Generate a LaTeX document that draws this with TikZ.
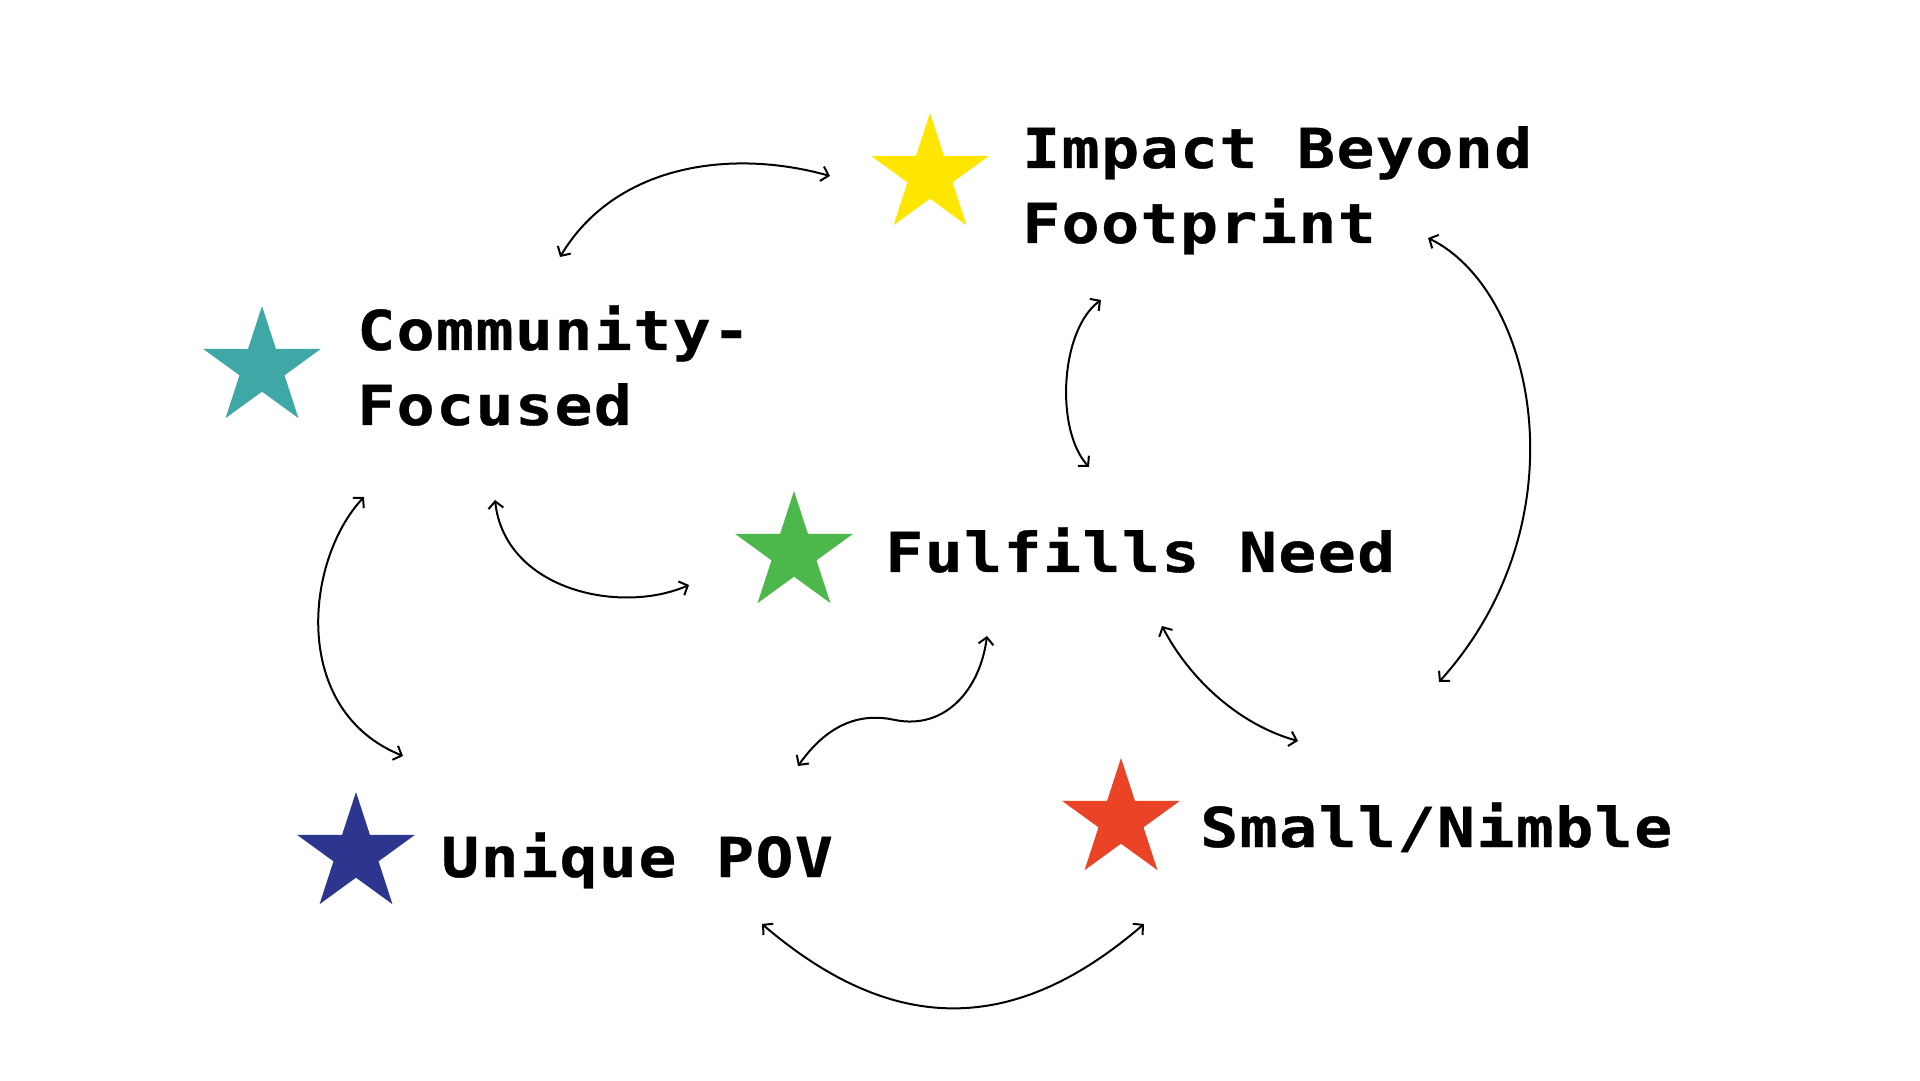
\documentclass[tikz,border=0pt]{standalone}
\usepackage{fontspec}
\usetikzlibrary{shapes.geometric,arrows.meta}
\newfontfamily\lblfont[LetterSpace=2.5,FakeStretch=1.15,BoldFeatures={FakeBold=0.6}]{DejaVu Sans Mono}
\definecolor{cyellow}{RGB}{255,230,0}
\definecolor{cteal}{RGB}{63,168,166}
\definecolor{cgreen}{RGB}{76,183,74}
\definecolor{cred}{RGB}{234,67,38}
\definecolor{cnavy}{RGB}{45,54,143}
\tikzset{
  starmark/.style={star, star points=5, star point ratio=2.618, minimum size=124pt, inner sep=0pt, draw=none, fill=#1},
  lbl/.style={anchor=base west, inner sep=0pt, font=\lblfont\bfseries\fontsize{55}{75}\selectfont, align=left},
  link/.style={line width=2pt, {Straight Barb[length=7pt,width=15pt]}-{Straight Barb[length=7pt,width=15pt]}}
}
\begin{document}
\begin{tikzpicture}[x=1pt,y=1pt]
\path[use as bounding box, fill=white] (0,0) rectangle (1920,1080);
% stars
\node[starmark=cyellow] (sImpact) at (930,905) {};
\node[starmark=cteal] (sCommunity) at (262,712) {};
\node[starmark=cgreen] (sNeed) at (794,527) {};
\node[starmark=cred] (sSmall) at (1121,260) {};
\node[starmark=cnavy] (sPOV) at (356,226) {};
% labels
\node[lbl] (tImpact1) at (1022,912) {Impact Beyond};
\node[lbl] (tImpact2) at (1022,837) {Footprint};
\node[lbl] (tCommunity1) at (357,730) {Community-};
\node[lbl] (tCommunity2) at (357,655) {Focused};
\node[lbl] (tNeed) at (885,508) {Fulfills Need};
\node[lbl] (tSmall) at (1200,233) {Small/Nimble};
\node[lbl] (tPOV) at (441,203) {Unique POV};
% connector ends
\coordinate (a1) at (560,823); \coordinate (a2) at (830,904);
\coordinate (b1) at (1101,780); \coordinate (b2) at (1089,613);
\coordinate (c1) at (1428,842); \coordinate (c2) at (1439,398);
\coordinate (d1) at (495,580); \coordinate (d2) at (689,495);
\coordinate (e1) at (364,583); \coordinate (e2) at (403,324);
\coordinate (f1) at (987,444); \coordinate (fm) at (895,360); \coordinate (f2) at (798,314);
\coordinate (g1) at (1162,454); \coordinate (g2) at (1298,339);
\coordinate (h1) at (762,156); \coordinate (h2) at (1144,156);
% connectors
\draw[link] (a1) .. controls (615,915) and (730,932) .. (a2);
\draw[link] (b1) .. controls (1060,750) and (1055,650) .. (b2);
\draw[link] (c1) .. controls (1535,790) and (1585,560) .. (c2);
\draw[link] (d1) .. controls (505,490) and (620,465) .. (d2);
\draw[link] (e1) .. controls (305,520) and (290,370) .. (e2);
\draw[link] (f1) .. controls (980,390) and (945,350) .. (fm) .. controls (850,370) and (820,345) .. (f2);
\draw[link] (g1) .. controls (1190,400) and (1240,355) .. (g2);
\draw[link] (h1) .. controls (893,44) and (1014,44) .. (h2);
\end{tikzpicture}
\end{document}
